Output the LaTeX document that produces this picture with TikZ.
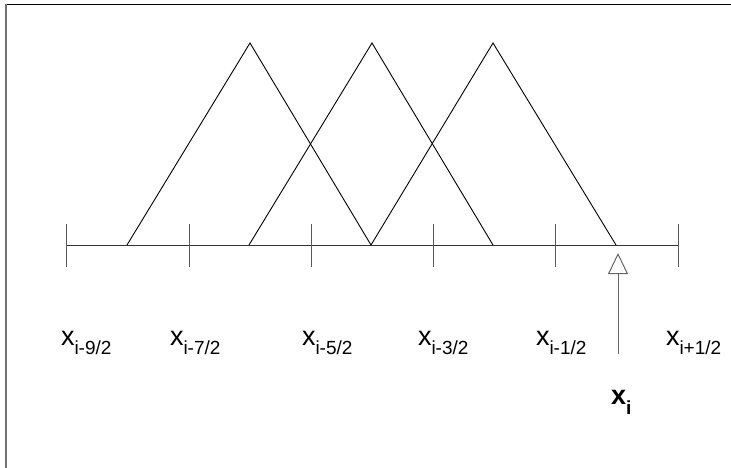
\documentclass[tikz,border=0pt]{standalone}
\usepackage{fontspec}
\setmainfont{Liberation Sans}
\usetikzlibrary{arrows.meta}
\newcommand{\lbl}[1]{{\fontsize{27}{27}\selectfont x}\raisebox{-9pt}{\fontsize{19}{19}\selectfont #1}}
\newcommand{\blbl}[1]{{\fontsize{27}{27}\selectfont\bfseries x}\raisebox{-10pt}{\fontsize{19}{19}\selectfont\bfseries #1}}
\tikzset{
  tri/.style={draw=black, line width=0.9pt, line join=miter},
  tick/.style={draw=black!65, line width=1pt},
  axisline/.style={draw=black!80, line width=1pt},
  lab/.style={anchor=base west, inner sep=0pt, outer sep=0pt},
  ptr/.style={draw=black!60, line width=1pt, -{Triangle[open, length=21pt, width=20pt, line width=1pt]}}
}
\begin{document}
\begin{tikzpicture}[x=1pt,y=-1pt]
\useasboundingbox (0,0) rectangle (731,468);
% frame
\draw[black, line width=1.3pt] (5,4.5) -- (731,4.5);
\draw[black!55, line width=1.8pt] (6,4.5) -- (6,468);
% axis points
\foreach \n/\x in {a/66,b/189,c/311,d/433,e/555,f/678}{
  \coordinate (t\n) at (\x,245);
  \coordinate (t\n u) at (\x,224);
  \coordinate (t\n d) at (\x,267);
}
\draw[axisline] (ta) -- (tf);
\foreach \n in {a,b,c,d,e,f}{ \draw[tick] (t\n u) -- (t\n d); }
% triangles
\coordinate (p1l) at (127,245); \coordinate (p1t) at (250,43); \coordinate (p1r) at (371,245);
\coordinate (p2l) at (249,245); \coordinate (p2t) at (372,43); \coordinate (p2r) at (493,245);
\coordinate (p3l) at (371,245); \coordinate (p3t) at (493,43); \coordinate (p3r) at (616,245);
\draw[tri] (p1l) -- (p1t) -- (p1r);
\draw[tri] (p2l) -- (p2t) -- (p2r);
\draw[tri] (p3l) -- (p3t) -- (p3r);
% arrow
\coordinate (as) at (618,354);
\coordinate (ae) at (618,253);
\draw[ptr] (as) -- (ae);
% labels
\node[lab] (l1) at (61,345) {\lbl{i-9/2}};
\node[lab] (l2) at (170,345) {\lbl{i-7/2}};
\node[lab] (l3) at (302,345) {\lbl{i-5/2}};
\node[lab] (l4) at (418,345) {\lbl{i-3/2}};
\node[lab] (l5) at (536,345) {\lbl{i-1/2}};
\node[lab] (l6) at (666,345) {\lbl{i+1/2}};
\node[lab] (lx) at (611,404) {\blbl{i}};
\end{tikzpicture}
\end{document}
